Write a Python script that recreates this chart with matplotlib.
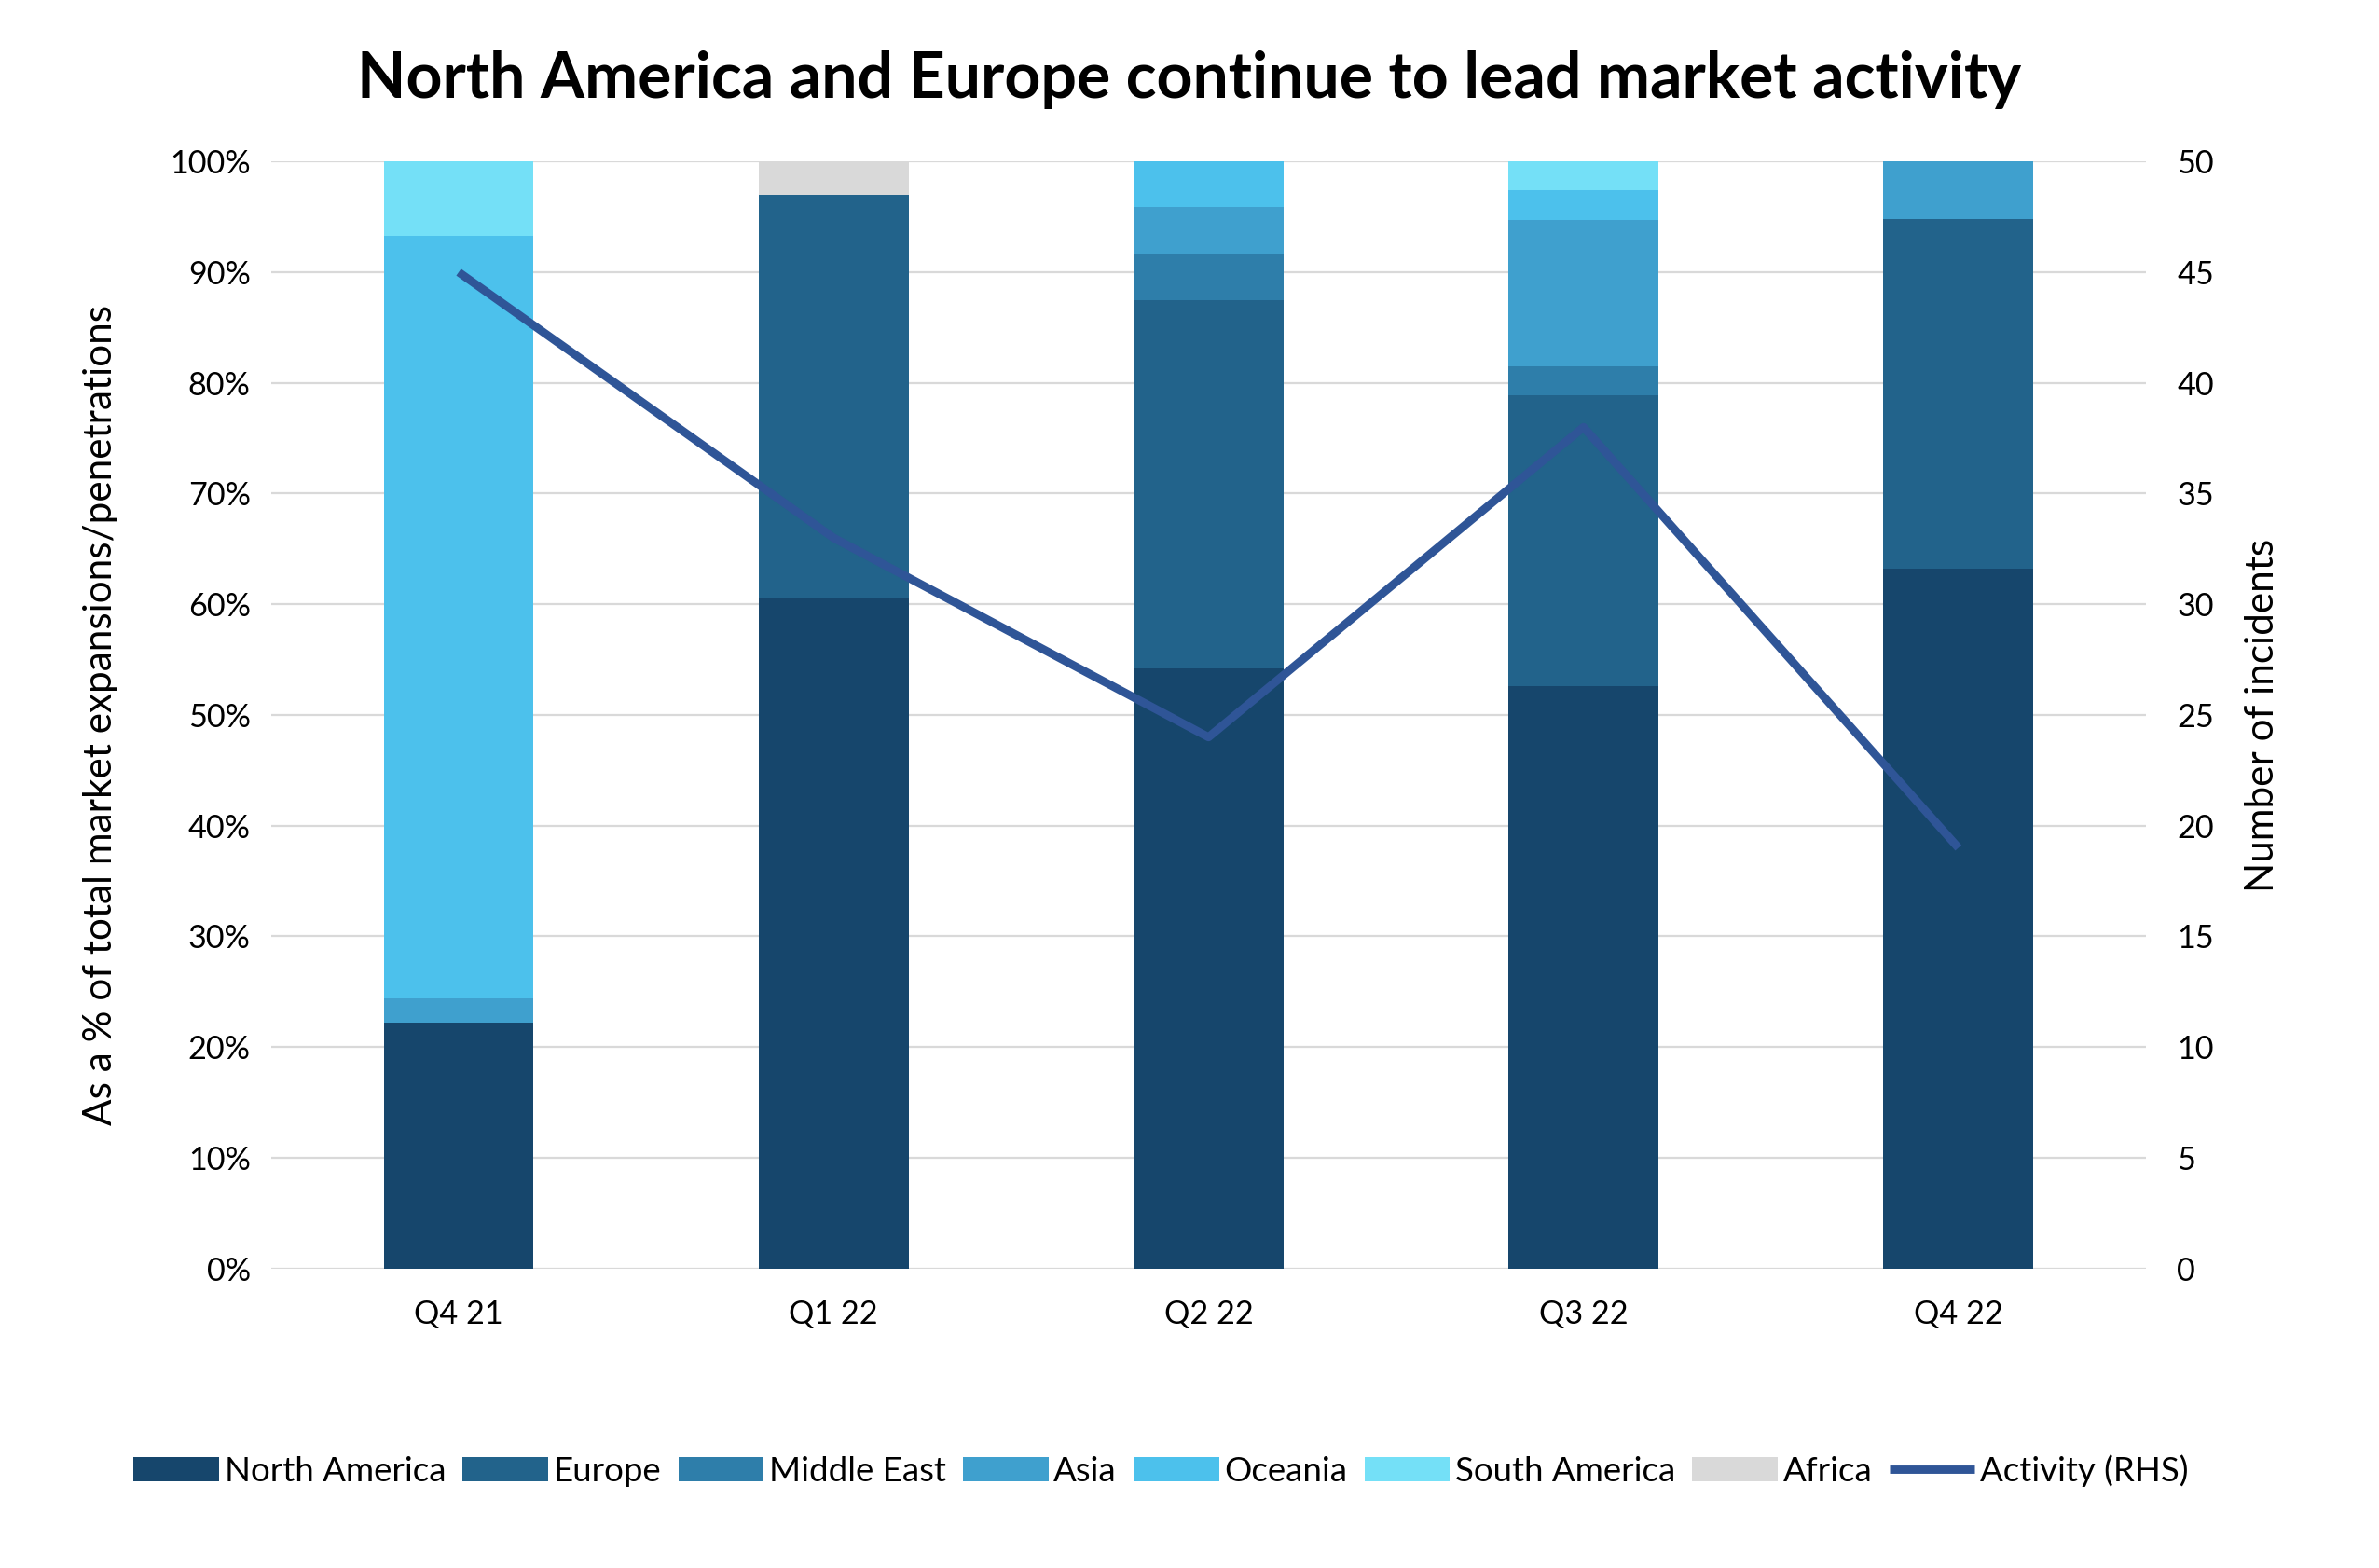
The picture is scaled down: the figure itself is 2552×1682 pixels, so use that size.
import numpy as np
import matplotlib.pyplot as plt

plt.rcParams['font.family'] = ['Lato', 'DejaVu Sans']

quarters = ["Q4 21", "Q1 22", "Q2 22", "Q3 22", "Q4 22"]

# share of market expansions/penetrations, %
north_america = [22.2, 60.6, 54.2, 52.6, 63.2]
europe = [0.0, 36.4, 33.3, 26.3, 31.6]
middle_east = [0.0, 0.0, 4.2, 2.6, 0.0]
asia = [2.2, 0.0, 4.2, 13.2, 5.2]
oceania = [68.9, 0.0, 4.1, 2.7, 0.0]
south_america = [6.7, 0.0, 0.0, 2.6, 0.0]
africa = [0.0, 3.0, 0.0, 0.0, 0.0]

# number of incidents (RHS)
activity = [45, 33, 24, 38, 19]

series = [
    ("North America", north_america, "#16466C"),
    ("Europe", europe, "#22638B"),
    ("Middle East", middle_east, "#2E7EAA"),
    ("Asia", asia, "#3FA0CE"),
    ("Oceania", oceania, "#4CC1EC"),
    ("South America", south_america, "#74E0F7"),
    ("Africa", africa, "#D9D9D9"),
]

fig, ax = plt.subplots(figsize=(12.76, 8.41), dpi=200)
fig.subplots_adjust(left=0.114, right=0.902, top=0.897, bottom=0.191)

x = np.arange(len(quarters))
bottom = np.zeros(len(quarters))
handles = []
for name, vals, col in series:
    vals = np.array(vals)
    b = ax.bar(x, vals, 0.4, bottom=bottom, color=col, label=name, zorder=2)
    handles.append(b)
    bottom += vals

ax.set_ylim(0, 100)
ax.set_xlim(-0.5, len(quarters) - 0.5)
ax.set_yticks(np.arange(0, 101, 10))
ax.set_yticklabels([f"{v}%" for v in range(0, 101, 10)])
ax.set_xticks(x)
ax.set_xticklabels(quarters)
ax.grid(axis="y", color="#D9D9D9", linewidth=0.8, zorder=0)
ax.tick_params(length=0, labelsize=12.3, pad=8)
ax.tick_params(axis="x", pad=12)
for s in ax.spines.values():
    s.set_visible(False)
ax.set_ylabel("As a % of total market expansions/penetrations", fontsize=15.2, labelpad=20)

ax2 = ax.twinx()
line, = ax2.plot(x, activity, color="#2F5597", linewidth=3.2, label="Activity (RHS)", zorder=3,
                 solid_capstyle="butt")
ax2.set_ylim(0, 50)
ax2.set_yticks(np.arange(0, 51, 5))
ax2.tick_params(length=0, labelsize=12.3, pad=12)
for s in ax2.spines.values():
    s.set_visible(False)
ax2.set_ylabel("Number of incidents", fontsize=15.2, labelpad=12)

fig.suptitle("North America and Europe continue to lead market activity",
             fontsize=24.5, fontweight="bold", y=0.968)

fig.legend(handles + [line], [h.get_label() for h in handles] + ["Activity (RHS)"],
           loc="center", bbox_to_anchor=(0.488, 0.062), ncol=8, frameon=False,
           fontsize=13.2, handlelength=2.5, handleheight=0.7, handletextpad=0.15,
           columnspacing=0.5)

fig.savefig("out.png", dpi=200)
